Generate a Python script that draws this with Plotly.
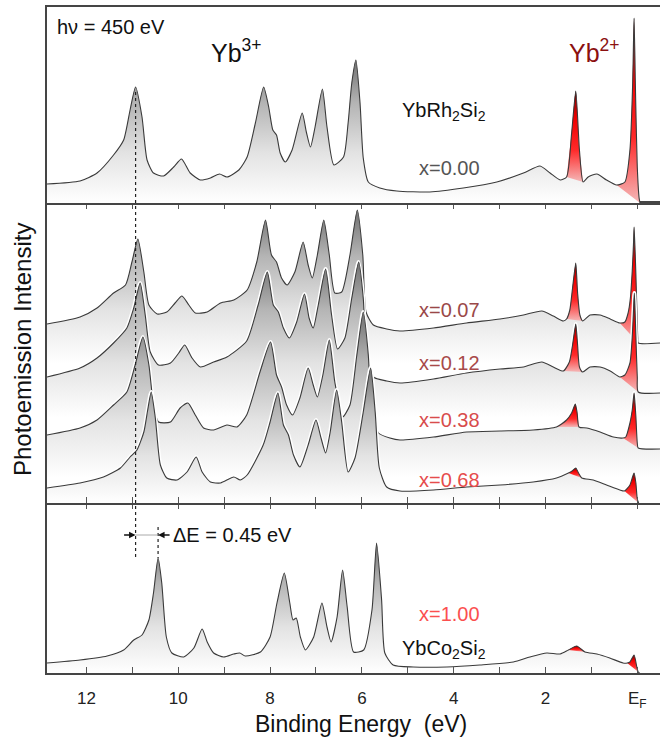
import plotly.graph_objects as go

# ---------------- data ----------------
# binding energy (eV) and photoemission intensity (arb. units, stacked as drawn)

# YbRh2Si2, x = 0.00 (top panel)
E_x000 = [12.86, 12.14, 11.77, 11.41, 11.19, 11.05, 10.93, 10.79, 10.68, 10.54,
          10.32, 10.10, 9.93, 9.74, 9.52, 9.30, 9.10, 8.94, 8.68, 8.50,
          8.32, 8.14, 8.03, 7.94, 7.86, 7.78, 7.67, 7.52, 7.30, 7.21,
          7.12, 7.02, 6.86, 6.76, 6.61, 6.40, 6.30, 6.22, 6.13, 6.04,
          5.97, 5.86, 5.61, 5.24, 4.52, 3.79, 3.06, 2.48, 2.12, 1.90,
          1.68, 1.54, 1.43, 1.34, 1.26, 1.18, 1.07, 0.88, 0.67, 0.45,
          0.27, 0.16, 0.10, 0.07, 0.035, 0.0, -0.04, -0.06]
I_x000 = [19, 22, 30, 48, 63, 93, 116, 86, 43, 30,
          27, 36, 44, 30, 23, 25, 29, 26, 33, 46,
          80, 116, 96, 73, 68, 50, 41, 53, 90, 71,
          56, 76, 114, 76, 38, 46, 80, 120, 143, 100,
          45, 21, 15, 12, 11, 15, 21, 30, 37, 30,
          23, 26, 70, 112, 53, 21, 26, 29, 23, 18,
          21, 53, 120, 185, 103, 36, 5, 0]

# x = 0.07 (middle panel, top curve)
E_x007 = [12.86, 12.14, 11.77, 11.41, 11.15, 11.01, 10.88, 10.75, 10.64, 10.46,
          10.25, 10.07, 9.92, 9.77, 9.63, 9.37, 9.08, 8.79, 8.50, 8.29,
          8.10, 7.97, 7.86, 7.75, 7.63, 7.46, 7.28, 7.17, 7.08, 6.97,
          6.83, 6.71, 6.59, 6.44, 6.26, 6.10, 5.98, 5.91, 5.75, 5.46,
          5.17, 4.44, 3.72, 2.99, 2.48, 2.08, 1.83, 1.61, 1.54, 1.47,
          1.41, 1.34, 1.30, 1.25, 1.19, 1.03, 0.81, 0.59, 0.38, 0.27,
          0.20, 0.15, 0.11, 0.08, 0.07, 0.05, 0.03, 0.01, -0.01, -0.02, -0.5]
I_x007 = [179, 186, 195, 210, 218, 241, 264, 231, 198, 189,
          191, 200, 207, 198, 190, 191, 200, 203, 213, 241,
          283, 248, 241, 225, 218, 231, 261, 238, 225, 248,
          283, 248, 210, 211, 248, 293, 248, 191, 178, 174,
          172, 175, 180, 184, 188, 192, 187, 182, 184, 193,
          215, 240, 210, 188, 182, 188, 188, 184, 180, 181,
          190, 205, 232, 262, 276, 255, 228, 195, 165, 160, 160]

# x = 0.12
E_x012 = [12.86, 12.14, 11.77, 11.41, 11.12, 10.97, 10.83, 10.72, 10.61, 10.43,
          10.17, 9.99, 9.86, 9.70, 9.52, 9.23, 8.94, 8.51, 8.26, 8.06,
          7.93, 7.82, 7.71, 7.58, 7.42, 7.25, 7.15, 7.06, 6.95, 6.79,
          6.66, 6.53, 6.37, 6.22, 6.07, 5.97, 5.90, 5.75, 5.46, 5.17,
          4.44, 3.72, 2.99, 2.48, 2.08, 1.83, 1.61, 1.48, 1.41, 1.34,
          1.30, 1.26, 1.19, 1.03, 0.81, 0.59, 0.38, 0.27, 0.16, 0.11,
          0.08, 0.065, 0.05, 0.03, 0.0, -0.02, -0.5]
I_x012 = [126, 135, 145, 160, 175, 195, 220, 188, 151, 138,
          140, 150, 158, 145, 136, 141, 146, 162, 198, 231,
          198, 191, 175, 165, 181, 209, 185, 175, 198, 234,
          188, 154, 165, 205, 241, 205, 148, 126, 122, 120,
          124, 130, 134, 136, 141, 136, 132, 141, 158, 179,
          158, 136, 131, 136, 136, 132, 126, 128, 140, 166,
          195, 210, 195, 166, 126, 111, 110]

# x = 0.38
E_x038 = [12.86, 12.14, 11.77, 11.41, 11.12, 10.94, 10.77, 10.64, 10.54, 10.43,
          10.17, 9.96, 9.79, 9.63, 9.45, 9.23, 8.94, 8.72, 8.51, 8.22,
          7.99, 7.86, 7.75, 7.64, 7.51, 7.35, 7.17, 7.06, 6.97, 6.85,
          6.71, 6.59, 6.42, 6.26, 6.11, 5.97, 5.86, 5.79, 5.64, 5.39,
          5.17, 4.44, 3.72, 2.99, 2.27, 1.76, 1.54, 1.43, 1.35, 1.31,
          1.27, 1.10, 0.81, 0.52, 0.31, 0.25, 0.16, 0.11, 0.07, 0.05,
          0.03, 0.0, -0.02, -0.5]
I_x038 = [68, 75, 83, 98, 111, 138, 166, 138, 98, 81,
          81, 95, 100, 88, 75, 73, 78, 76, 88, 131,
          161, 128, 116, 98, 88, 105, 135, 118, 106, 128,
          163, 121, 86, 98, 148, 191, 148, 91, 70, 65,
          63, 66, 71, 72, 73, 76, 83, 90, 99, 90,
          76, 75, 71, 66, 65, 66, 80, 93, 110, 100,
          86, 60, 55, 54]

# x = 0.68
E_x068 = [12.86, 12.14, 11.63, 11.26, 11.05, 10.90, 10.75, 10.67, 10.59, 10.50,
          10.39, 10.25, 10.03, 9.81, 9.61, 9.48, 9.30, 9.08, 8.79, 8.65,
          8.50, 8.15, 8.00, 7.83, 7.71, 7.60, 7.49, 7.35, 7.17, 7.00,
          6.89, 6.79, 6.69, 6.55, 6.44, 6.30, 6.15, 5.97, 5.81, 5.71,
          5.62, 5.46, 5.17, 4.44, 3.72, 2.99, 2.27, 1.76, 1.50, 1.42,
          1.34, 1.28, 1.21, 0.96, 0.67, 0.38, 0.28, 0.16, 0.11, 0.07,
          0.03, 0.0, -0.03]
I_x068 = [15, 20, 26, 35, 46, 53, 71, 92, 111, 85,
          38, 25, 23, 31, 46, 31, 21, 20, 26, 23,
          28, 58, 81, 110, 78, 68, 48, 36, 58, 83,
          65, 50, 71, 113, 81, 31, 45, 91, 135, 91,
          35, 16, 12, 13, 16, 18, 21, 25, 30, 32,
          35, 30, 25, 23, 18, 13, 12, 18, 25, 30,
          20, 4, 0]

# YbCo2Si2, x = 1.00 (bottom panel)
E_x100 = [12.86, 12.14, 11.55, 11.19, 10.97, 10.79, 10.64, 10.54, 10.44, 10.36,
          10.26, 10.14, 9.88, 9.66, 9.48, 9.37, 9.23, 9.01, 8.79, 8.66,
          8.54, 8.21, 8.00, 7.85, 7.69, 7.57, 7.50, 7.43, 7.34, 7.23,
          7.05, 6.87, 6.76, 6.67, 6.54, 6.42, 6.32, 6.18, 5.96, 5.78,
          5.68, 5.57, 5.50, 5.32, 4.88, 4.15, 3.43, 2.70, 2.34, 1.97,
          1.68, 1.50, 1.32, 1.14, 0.88, 0.60, 0.31, 0.22, 0.16, 0.07,
          0.01, -0.02, -0.05]
I_x100 = [10, 13, 17, 23, 33, 38, 53, 80, 115, 90,
          36, 20, 16, 25, 44, 31, 20, 16, 19, 20,
          17, 21, 36, 70, 100, 70, 53, 55, 36, 23,
          36, 70, 46, 31, 56, 103, 66, 21, 23, 63,
          130, 73, 20, 8, 6, 6, 8, 11, 16, 20,
          19, 23, 27, 21, 19, 15, 10, 10, 11, 18,
          6, 1, 0]

# Yb2+ (red) energy windows for each spectrum
RED_x000 = [(1.17, 1.55), (-0.07, 0.46)]
RED_x007 = [(1.18, 1.55), (-0.03, 0.39)]
RED_x012 = [(1.18, 1.62), (-0.03, 0.39)]
RED_x038 = [(1.26, 1.77), (-0.03, 0.32)]
RED_x068 = [(1.20, 1.51), (-0.04, 0.29)]
RED_x100 = [(1.13, 1.51), (-0.06, 0.23)]

TICK_E = list(range(0, 13))
TICK_TEXT = ["E<sub>F</sub>" if v == 0 else (str(v) if v % 2 == 0 else "") for v in TICK_E]

# ---------------- geometry / style ----------------
W, H = 660, 738
ML, MR, MT, MB = 47, 0, 7, 65
PW, PH = W - ML - MR, H - MT - MB


def xp(px):
    return (px - ML) / PW


def yp(py):
    return (H - MB - py) / PH


FONT = "Liberation Sans, Arial, sans-serif"
LINE = "#3a3a3a"
GRAY_CS = [[0, "#ffffff"], [0.35, "#e3e3e3"], [0.7, "#b4b4b4"], [1, "#707070"]]
RED_CS = [[0, "#f4b8b8"], [0.35, "#ff2a2a"], [0.7, "#f00000"], [0.9, "#a00000"], [1, "#2a0000"]]
SM = 0.6

fig = go.Figure()


def add_spec(E, I, xa, ya, g0, g1, reds, halo):
    if halo:
        # white outline drawn first, so only its outer half shows above the fill
        fig.add_trace(go.Scatter(
            x=E, y=I, xaxis=xa, yaxis=ya, mode="lines",
            line=dict(width=4, color="white", shape="spline", smoothing=SM),
            hoverinfo="skip", showlegend=False))
    fig.add_trace(go.Scatter(
        x=E, y=I, xaxis=xa, yaxis=ya, mode="lines",
        line=dict(width=0, shape="spline", smoothing=SM),
        fill="tozeroy",
        fillgradient=dict(type="vertical", colorscale=GRAY_CS, start=g0, stop=g1),
        hoverinfo="skip", showlegend=False))
    for lo, hi in reds:
        idx = [k for k, e in enumerate(E) if lo <= e <= hi]
        fig.add_trace(go.Scatter(
            x=[E[k] for k in idx], y=[I[k] for k in idx], xaxis=xa, yaxis=ya,
            mode="lines", line=dict(width=0, shape="spline", smoothing=SM),
            fill="toself",
            fillgradient=dict(type="vertical", colorscale=RED_CS),
            hoverinfo="skip", showlegend=False))
    fig.add_trace(go.Scatter(
        x=E, y=I, xaxis=xa, yaxis=ya, mode="lines",
        line=dict(width=1.1, color=LINE, shape="spline", smoothing=SM),
        hoverinfo="skip", showlegend=False))


# top panel
add_spec(E_x000, I_x000, "x3", "y3", 0, 143, RED_x000, False)
# middle panel (top curve first, lower curves in front)
add_spec(E_x007, I_x007, "x2", "y2", 140, 293, RED_x007, True)
add_spec(E_x012, I_x012, "x2", "y2", 85, 241, RED_x012, True)
add_spec(E_x038, I_x038, "x2", "y2", 25, 191, RED_x038, True)
add_spec(E_x068, I_x068, "x2", "y2", 0, 135, RED_x068, True)
# bottom panel
add_spec(E_x100, I_x100, "x", "y", 0, 130, RED_x100, False)

xbase = dict(range=[12.86, -0.495], showline=True, linecolor="#454545", linewidth=2,
             showgrid=False, zeroline=False, tickvals=TICK_E, ticktext=TICK_TEXT,
             ticks="inside", ticklen=6, tickwidth=1.3, tickcolor="#555")
ybase = dict(showline=True, linecolor="#454545", linewidth=2, showgrid=False,
             zeroline=False, showticklabels=False, ticks="")

d1 = 170 / PH
d2 = 470 / PH

fig.update_layout(
    width=W, height=H,
    margin=dict(l=ML, r=MR, t=MT, b=MB, pad=0),
    paper_bgcolor="white", plot_bgcolor="white",
    font=dict(family=FONT, color="#111"),
    xaxis=dict(xbase, anchor="y", mirror="allticks", showticklabels=True,
               tickfont=dict(size=17, color="#222"), ticklabelstandoff=9),
    xaxis2=dict(xbase, anchor="y2", matches="x", mirror="allticks", showticklabels=False),
    xaxis3=dict(xbase, anchor="y3", matches="x", mirror=True, ticks="", showticklabels=False),
    yaxis=dict(ybase, domain=[0, d1], range=[0, 170]),
    yaxis2=dict(ybase, domain=[d1, d2], range=[0, 300]),
    yaxis3=dict(ybase, domain=[d2, 1], range=[0, 196]),
)

# dotted guide lines and delta-E marker
fig.add_shape(type="line", xref="x", yref="paper", x0=10.93, x1=10.93,
              y0=yp(92), y1=yp(557), line=dict(color="#222", width=1.2, dash="dot"))
fig.add_shape(type="line", xref="x", yref="paper", x0=10.44, x1=10.44,
              y0=yp(527), y1=yp(558), line=dict(color="#222", width=1.2, dash="dot"))
fig.add_shape(type="line", xref="x", yref="paper", x0=10.93, x1=10.44,
              y0=yp(535), y1=yp(535), line=dict(color="#aaaaaa", width=1))

ann = []
ann.append(dict(x=10.93, y=yp(535), xref="x", yref="paper", text="", showarrow=True,
                ax=-13, ay=0, axref="pixel", ayref="pixel", arrowhead=2, arrowsize=1,
                arrowwidth=1.3, arrowcolor="#111", standoff=0))
ann.append(dict(x=10.44, y=yp(535), xref="x", yref="paper", text="", showarrow=True,
                ax=13, ay=0, axref="pixel", ayref="pixel", arrowhead=2, arrowsize=1,
                arrowwidth=1.3, arrowcolor="#111", standoff=0))


def label(text, px, py, size=20, color="#111"):
    ann.append(dict(x=xp(px), y=yp(py), xref="paper", yref="paper", text=text,
                    showarrow=False, xanchor="left", yanchor="middle",
                    font=dict(family=FONT, size=size, color=color)))


label("hν = 450 eV", 55, 27)
label("Yb<sup>3+</sup>", 209, 51, size=25)
label("Yb<sup>2+</sup>", 567, 51, size=25, color="#8b1010")
label("YbRh<sub>2</sub>Si<sub>2</sub>", 400, 111)
label("x=0.00", 417, 168, color="#555555")
label("x=0.07", 417, 310, color="#9a4848")
label("x=0.12", 417, 363, color="#a84a4a")
label("x=0.38", 417, 420, color="#d84c4c")
label("x=0.68", 417, 480, color="#e64c4c")
label("x=1.00", 417, 614, color="#fb4f4f")
label("YbCo<sub>2</sub>Si<sub>2</sub>", 400, 649)
label("ΔE = 0.45 eV", 171, 535)

ann.append(dict(x=xp(361), y=yp(724), xref="paper", yref="paper",
                text="Binding Energy\u00a0\u00a0(eV)", showarrow=False,
                xanchor="center", yanchor="middle", font=dict(family=FONT, size=23, color="#111")))
ann.append(dict(x=xp(22), y=yp(350), xref="paper", yref="paper",
                text="Photoemission Intensity", textangle=-90, showarrow=False,
                xanchor="center", yanchor="middle", font=dict(family=FONT, size=24, color="#111")))

fig.update_layout(annotations=ann)
fig.write_html("out.html", config={"displayModeBar": False},
               post_script="document.body.style.margin='0px';document.body.style.overflow='hidden';")
